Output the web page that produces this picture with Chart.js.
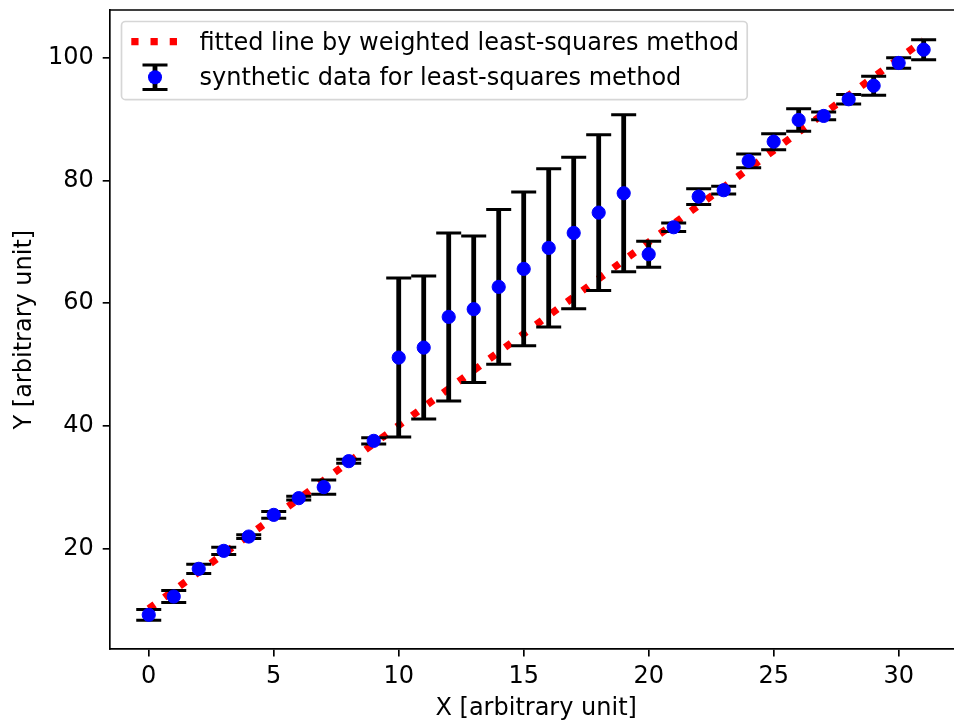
<!DOCTYPE html>
<html>
<head>
<meta charset="utf-8">
<title>Weighted least-squares fit</title>
<script src="https://cdn.jsdelivr.net/npm/chart.js@4/dist/chart.umd.min.js"></script>
<style>
  html, body { margin: 0; padding: 0; background: #ffffff; overflow: hidden; }
  #wrap { position: relative; width: 970px; height: 721px; }
  canvas { display: block; }
</style>
</head>
<body>
<div id="wrap"><canvas id="chart" width="970" height="721"></canvas></div>
<script>
// Synthetic measurements: x position, measured value and its 1-sigma error
const xValues = [0, 1, 2, 3, 4, 5, 6, 7, 8, 9, 10, 11, 12, 13, 14, 15,
                 16, 17, 18, 19, 20, 21, 22, 23, 24, 25, 26, 27, 28, 29, 30, 31];
const yValues = [9.22, 12.20, 16.71, 19.64, 21.97, 25.50, 28.22, 30.02, 34.25, 37.56,
                 51.12, 52.75, 57.75, 59.01, 62.64, 65.57, 68.99, 71.43, 74.74, 77.90,
                 67.96, 72.36, 77.35, 78.39, 83.16, 86.30, 89.84, 90.49, 93.21, 95.42,
                 99.12, 101.29];
const yErrors = [0.87, 0.98, 0.76, 0.60, 0.30, 0.55, 0.30, 1.17, 0.33, 0.52,
                 12.95, 11.65, 13.68, 11.93, 12.59, 12.52, 12.90, 12.35, 12.70, 12.80,
                 2.10, 0.70, 1.28, 0.63, 1.12, 1.30, 1.84, 0.63, 0.79, 1.55,
                 0.87, 1.63];

// End points of the weighted least-squares line
const fitX = [0, 31];
const fitY = [10.2, 102.8];

// Axis ticks and limits
const xTicks = [0, 5, 10, 15, 20, 25, 30];
const yTicks = [20, 40, 60, 80, 100];
const xRange = [-1.55, 32.55];
const yRange = [3.6, 107.75];

const labelFit = 'fitted line by weighted least-squares method';
const labelData = 'synthetic data for least-squares method';
const xTitle = 'X [arbitrary unit]';
const yTitle = 'Y [arbitrary unit]';

const FONT = 'DejaVu Sans';
const FS = 24;
const SPINE = 1.67;
const ERR_W = 4.8, CAP_W = 3, CAP_HALF = 12.5;
const DOT_W = 7.25;

function drawErrorGlyph(ctx, px, top, bot) {
  ctx.strokeStyle = '#000000';
  ctx.lineCap = 'butt';
  ctx.lineWidth = ERR_W;
  ctx.beginPath();
  ctx.moveTo(px, top);
  ctx.lineTo(px, bot);
  ctx.stroke();
  ctx.lineWidth = CAP_W;
  ctx.beginPath();
  ctx.moveTo(px - CAP_HALF, top); ctx.lineTo(px + CAP_HALF, top);
  ctx.moveTo(px - CAP_HALF, bot); ctx.lineTo(px + CAP_HALF, bot);
  ctx.stroke();
}

// Vertical error bars with caps, painted just before the markers
const errorBars = {
  id: 'errorBars',
  beforeDatasetDraw(chart, args) {
    if (args.index !== 0) return;
    const { ctx, scales: { x, y } } = chart;
    ctx.save();
    xValues.forEach((xv, i) => {
      const px = x.getPixelForValue(xv);
      const top = y.getPixelForValue(yValues[i] + yErrors[i]);
      const bot = y.getPixelForValue(yValues[i] - yErrors[i]);
      drawErrorGlyph(ctx, px, top, bot);
    });
    ctx.restore();
  }
};

// Top and right spines of the axes box
const frame = {
  id: 'frame',
  afterDatasetsDraw(chart) {
    const { ctx, chartArea: a } = chart;
    ctx.save();
    ctx.strokeStyle = '#000000';
    ctx.lineWidth = SPINE;
    ctx.beginPath();
    ctx.moveTo(a.left, a.top);
    ctx.lineTo(a.right, a.top);
    ctx.lineTo(a.right, a.bottom);
    ctx.stroke();
    ctx.restore();
  }
};

// Legend box in the upper left corner of the axes
const legendBox = {
  id: 'legendBox',
  afterDraw(chart) {
    const { ctx, chartArea: a } = chart;
    ctx.save();
    ctx.font = `${FS}px "${FONT}"`;
    const textX = a.left + 89.5;
    const textW = Math.max(ctx.measureText(labelFit).width, ctx.measureText(labelData).width);
    const bx = a.left + 11.5, by = a.top + 11.5;
    const bw = textX + textW + 8.3 - bx, bh = 78.2;
    ctx.fillStyle = 'rgba(255,255,255,0.8)';
    ctx.strokeStyle = 'rgba(204,204,204,0.8)';
    ctx.lineWidth = SPINE;
    ctx.beginPath();
    ctx.roundRect(bx, by, bw, bh, 4);
    ctx.fill();
    ctx.stroke();

    // dotted line sample
    const row1 = by + 20;
    ctx.strokeStyle = '#ff0000';
    ctx.lineWidth = DOT_W;
    ctx.lineCap = 'butt';
    ctx.setLineDash([DOT_W, DOT_W * 1.65]);
    ctx.beginPath();
    ctx.moveTo(a.left + 21.3, row1);
    ctx.lineTo(a.left + 67.7, row1);
    ctx.stroke();
    ctx.setLineDash([]);

    // marker with error bar sample
    const row2 = row1 + 35.7;
    const cx = a.left + 45;
    drawErrorGlyph(ctx, cx, row2 - 12.3, row2 + 12.3);
    ctx.fillStyle = '#0000ff';
    ctx.beginPath();
    ctx.arc(cx, row2, 7, 0, Math.PI * 2);
    ctx.fill();

    ctx.fillStyle = '#000000';
    ctx.textBaseline = 'alphabetic';
    ctx.textAlign = 'left';
    ctx.fillText(labelFit, textX, row1 + 8.2);
    ctx.fillText(labelData, textX, row2 + 8.2);
    ctx.restore();
  }
};

const tickFont = { family: FONT, size: FS };

new Chart(document.getElementById('chart'), {
  type: 'scatter',
  data: {
    datasets: [
      {
        label: labelData,
        data: xValues.map((xv, i) => ({ x: xv, y: yValues[i] })),
        backgroundColor: '#0000ff',
        borderColor: '#0000ff',
        pointRadius: 6.6,
        pointBorderWidth: 1,
        pointHoverRadius: 6.6,
        showLine: false
      },
      {
        label: labelFit,
        data: fitX.map((xv, i) => ({ x: xv, y: fitY[i] })),
        showLine: true,
        borderColor: '#ff0000',
        borderWidth: DOT_W,
        borderDash: [DOT_W, DOT_W * 1.65],
        borderCapStyle: 'butt',
        pointRadius: 0,
        pointHoverRadius: 0,
        fill: false,
        tension: 0
      }
    ]
  },
  options: {
    responsive: false,
    animation: false,
    devicePixelRatio: 1,
    events: [],
    layout: { padding: { top: 10, left: 0, right: 3.3, bottom: 0 } },
    plugins: {
      legend: { display: false },
      tooltip: { enabled: false }
    },
    scales: {
      x: {
        type: 'linear',
        min: xRange[0],
        max: xRange[1],
        afterBuildTicks: s => { s.ticks = xTicks.map(v => ({ value: v })); },
        afterFit: s => { s.height = 71.7; s.paddingLeft = 0; s.paddingRight = 0; },
        ticks: {
          font: tickFont,
          color: '#000000',
          padding: 5.5,
          autoSkip: false,
          maxRotation: 0
        },
        grid: {
          display: true,
          drawOnChartArea: false,
          drawTicks: true,
          tickLength: 7.3,
          tickWidth: SPINE,
          color: '#000000',
          lineWidth: SPINE
        },
        border: { display: true, color: '#000000', width: SPINE },
        title: {
          display: true,
          text: xTitle,
          font: tickFont,
          color: '#000000',
          padding: { top: 0, bottom: -2 }
        }
      },
      y: {
        type: 'linear',
        min: yRange[0],
        max: yRange[1],
        afterBuildTicks: s => { s.ticks = yTicks.map(v => ({ value: v })); },
        afterFit: s => { s.width = 110; s.paddingTop = 0; s.paddingBottom = 0; },
        ticks: {
          font: tickFont,
          color: '#000000',
          padding: 9,
          autoSkip: false
        },
        grid: {
          display: true,
          drawOnChartArea: false,
          drawTicks: true,
          tickLength: 7.3,
          tickWidth: SPINE,
          color: '#000000',
          lineWidth: SPINE
        },
        border: { display: true, color: '#000000', width: SPINE },
        title: {
          display: true,
          text: yTitle,
          font: tickFont,
          color: '#000000',
          padding: { top: 10.6, bottom: 0 }
        }
      }
    }
  },
  plugins: [errorBars, frame, legendBox]
});
</script>
</body>
</html>
